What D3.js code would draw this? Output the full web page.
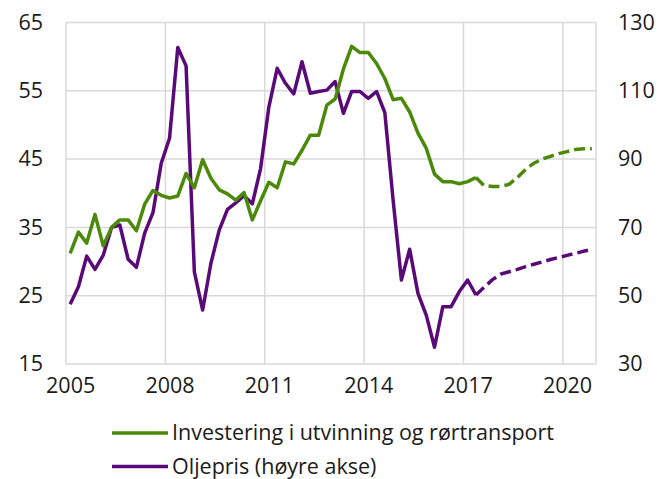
<!DOCTYPE html>
<head>
<meta charset="utf-8">
<script src="https://d3js.org/d3.v7.min.js"></script>
<style>
  body { margin: 0; background: #fff; }
  svg text { font-family: "Open Sans", sans-serif; fill: #1a1a1a; }
</style>
</head>
<body>
<div id="chart"></div>
<script>
// quarterly data, 2005Q1 - 2020Q4, projections from index 49
var startYear = 2005;
var forecastFrom = 49;
var invest = [31.2, 34.3, 32.7, 36.9, 32.3, 35.0, 36.1, 36.1, 34.5, 38.4,
              40.4, 39.7, 39.3, 39.6, 42.9, 40.8, 44.9, 42.2, 40.5, 39.9,
              39.0, 40.1, 36.1, 38.9, 41.6, 40.8, 44.6, 44.3, 46.3, 48.5,
              48.5, 52.9, 53.8, 58.2, 61.5, 60.6, 60.6, 59.0, 56.8, 53.7,
              53.9, 51.9, 48.8, 46.6, 42.8, 41.7, 41.7, 41.4, 41.7, 42.3,
              41.1, 41.0, 41.0, 41.3, 42.3, 43.5, 44.4, 45.0, 45.4, 45.8,
              46.1, 46.4, 46.5, 46.5];
var oil = [47.5, 52.6, 61.6, 57.7, 61.9, 70.0, 70.7, 60.7, 58.3, 68.3,
           74.3, 88.8, 96.1, 122.7, 117.3, 57.0, 45.8, 59.5, 69.2, 75.3,
           77.2, 79.3, 76.9, 87.3, 105.3, 116.6, 112.2, 109.1, 118.5, 109.3,
           109.8, 110.2, 112.7, 103.4, 109.8, 109.8, 107.8, 109.8, 103.6, 78.0,
           54.6, 63.6, 50.7, 44.3, 34.9, 46.8, 46.8, 51.2, 54.6, 50.2,
           52.5, 54.7, 56.3, 57.0, 57.7, 58.5, 59.2, 59.9, 60.6, 61.2,
           61.8, 62.4, 63.0, 63.6];
var xTicks = [2005, 2008, 2011, 2014, 2017, 2020];
var leftTicks = [15, 25, 35, 45, 55, 65];
var rightTicks = [30, 50, 70, 90, 110, 130];
var seriesNames = ["Investering i utvinning og rørtransport", "Oljepris (høyre akse)"];
var colors = ["#4b8a08", "#5a0a78"];

var W = 667, H = 479;
var plot = {left: 66, right: 596, top: 22.5, bottom: 364};

var svg = d3.select("#chart").append("svg")
    .attr("width", W).attr("height", H);

var x = d3.scaleLinear().domain([2005, 2021]).range([plot.left, plot.right]);
var yL = d3.scaleLinear().domain([15, 65]).range([plot.bottom, plot.top]);
var yR = d3.scaleLinear().domain([30, 130]).range([plot.bottom, plot.top]);

function xq(i) { return x(startYear + (i + 0.5) / 4); }

// grid
var grid = svg.append("g").attr("stroke", "#d9d9d9").attr("stroke-width", 1.5);
leftTicks.forEach(function(t) {
  grid.append("line").attr("x1", plot.left).attr("x2", plot.right)
    .attr("y1", yL(t)).attr("y2", yL(t));
});
xTicks.concat([2021]).forEach(function(t) {
  grid.append("line").attr("x1", x(t)).attr("x2", x(t))
    .attr("y1", plot.top).attr("y2", plot.bottom);
});

// axes (labels only)
var fs = 21.5;
svg.append("g")
  .attr("transform", "translate(" + (plot.left - 14) + ",0)")
  .call(d3.axisLeft(yL).tickValues(leftTicks).tickSize(0).tickPadding(9))
  .call(function(g) { g.select(".domain").remove(); })
  .selectAll("text").style("font-size", fs + "px").attr("fill", "#1a1a1a");

svg.append("g")
  .attr("transform", "translate(" + (plot.right + 13) + ",0)")
  .call(d3.axisRight(yR).tickValues(rightTicks).tickSize(0).tickPadding(9))
  .call(function(g) { g.select(".domain").remove(); })
  .selectAll("text").style("font-size", fs + "px").attr("fill", "#1a1a1a");

svg.append("g")
  .attr("transform", "translate(0," + (plot.bottom + 11) + ")")
  .call(d3.axisBottom(x).tickValues(xTicks.map(function(t) { return t + 0.125; }))
        .tickFormat(function(d) { return Math.floor(d); }).tickSize(0).tickPadding(3))
  .call(function(g) { g.select(".domain").remove(); })
  .selectAll("text").style("font-size", fs + "px").attr("fill", "#1a1a1a");

// lines
function drawSeries(vals, y, color) {
  var line = d3.line().x(function(d, i) { return xq(d.i); }).y(function(d) { return y(d.v); });
  var pts = vals.map(function(v, i) { return {i: i, v: v}; });
  svg.append("path").datum(pts.slice(0, forecastFrom + 1))
    .attr("d", line).attr("fill", "none").attr("stroke", color)
    .attr("stroke-width", 3.5).attr("stroke-linejoin", "round");
  svg.append("path").datum(pts.slice(forecastFrom))
    .attr("d", line).attr("fill", "none").attr("stroke", color)
    .attr("stroke-width", 3.5).attr("stroke-dasharray", "11,5");
}
drawSeries(oil, yR, colors[1]);
drawSeries(invest, yL, colors[0]);

// legend
var leg = svg.append("g");
seriesNames.forEach(function(name, k) {
  var ly = 433 + k * 33.5;
  leg.append("line").attr("x1", 112).attr("x2", 168).attr("y1", ly).attr("y2", ly)
    .attr("stroke", colors[k]).attr("stroke-width", 3.5);
  leg.append("text").attr("x", 172).attr("y", ly).attr("dy", "0.33em")
    .style("font-size", fs + "px").text(name);
});
</script>
</body>
